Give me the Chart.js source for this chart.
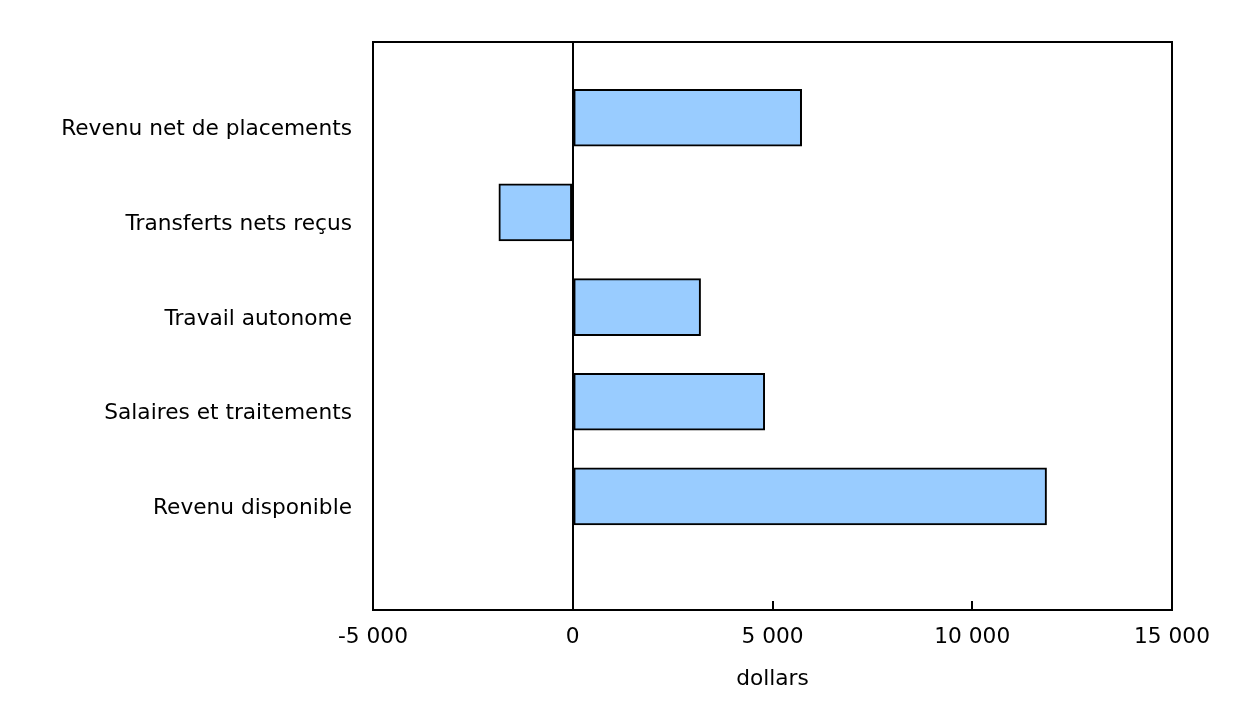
<!DOCTYPE html>
<html>
<head>
<meta charset="utf-8">
<script src="https://cdn.jsdelivr.net/npm/chart.js@4"></script>
<style>
  html, body { margin: 0; padding: 0; background: #fff; }
  #wrap { width: 1258px; height: 702px; }
</style>
</head>
<body>
<div id="wrap"><canvas id="graficaRevenu"></canvas></div>
<script>
// categories, top to bottom
const categories = [
  "Revenu net de placements",
  "Transferts nets reçus",
  "Travail autonome",
  "Salaires et traitements",
  "Revenu disponible",
];
// change, dollars
const values = [5730, -1850, 3200, 4805, 11860];
const xTicks = [-5000, 0, 5000, 10000, 15000];

const font = { family: "'DejaVu Sans', Verdana, sans-serif", size: 21.7 };

function formatNombre(v) {
  // espace comme séparateur de milliers
  const s = String(Math.abs(v)).replace(/\B(?=(\d{3})+(?!\d))/g, " ");
  return (v < 0 ? "-" : "") + s;
}

// petits traits de graduation vers l'intérieur sur l'axe x
const ticksInterieurs = {
  id: "ticksInterieurs",
  afterDraw(chart) {
    const ctx = chart.ctx;
    const x = chart.scales.x;
    const bottom = chart.chartArea.bottom;
    ctx.save();
    ctx.strokeStyle = "#000";
    ctx.lineWidth = 2;
    xTicks.forEach((t) => {
      const px = Math.round(x.getPixelForValue(t));
      ctx.beginPath();
      ctx.moveTo(px, bottom);
      ctx.lineTo(px, bottom - 9);
      ctx.stroke();
    });
    ctx.restore();
  },
};

const ctx = document.getElementById("graficaRevenu").getContext("2d");
new Chart(ctx, {
  type: "bar",
  data: {
    datasets: [
      {
        data: values.map((v, i) => ({ x: v, y: i })),
        backgroundColor: "#99ccff",
        borderColor: "#000",
        borderWidth: 2,
        borderSkipped: false,
        barThickness: 57,
      },
    ],
  },
  options: {
    indexAxis: "y",
    responsive: true,
    maintainAspectRatio: false,
    animation: false,
    layout: { padding: { top: 42, right: 86, left: 0, bottom: 0 } },
    plugins: {
      legend: { display: false },
      tooltip: { enabled: false },
    },
    scales: {
      x: {
        type: "linear",
        min: -5000,
        max: 15000,
        afterBuildTicks: (scale) => {
          scale.ticks = xTicks.map((v) => ({ value: v }));
        },
        afterFit: (scale) => {
          scale.height = 92;
        },
        grid: {
          drawTicks: false,
          color: (c) => (c.tick && c.tick.value === 0 ? "#000" : "rgba(0,0,0,0)"),
          lineWidth: 2,
        },
        border: { display: true, color: "#000", width: 2 },
        ticks: {
          color: "#000",
          font: font,
          padding: 14,
          maxRotation: 0,
          callback: (v) => formatNombre(v),
        },
        title: {
          display: true,
          text: "dollars",
          color: "#000",
          font: font,
          padding: { top: 0, bottom: 10 },
        },
      },
      y: {
        type: "linear",
        reverse: true,
        offset: false,
        min: -0.8,
        max: categories.length - 1 + 1.2,
        afterBuildTicks: (scale) => {
          scale.ticks = categories.map((_, i) => ({ value: i }));
        },
        afterFit: (scale) => {
          scale.width = 373;
        },
        grid: { display: false, drawTicks: false, offset: false },
        border: { display: true, color: "#000", width: 2 },
        ticks: {
          color: "#000",
          font: font,
          padding: 21,
          labelOffset: 12,
          callback: (v) => categories[v] || "",
        },
      },
      x2: {
        type: "linear",
        position: "top",
        display: true,
        min: -5000,
        max: 15000,
        afterFit: (scale) => {
          scale.height = 0;
        },
        grid: { display: false, drawTicks: false },
        border: { display: true, color: "#000", width: 2 },
        ticks: { display: false },
      },
      y2: {
        type: "linear",
        position: "right",
        display: true,
        min: 0,
        max: 1,
        afterFit: (scale) => {
          scale.width = 0;
        },
        grid: { display: false, drawTicks: false },
        border: { display: true, color: "#000", width: 2 },
        ticks: { display: false },
      },
    },
  },
  plugins: [ticksInterieurs],
});
</script>
</body>
</html>
